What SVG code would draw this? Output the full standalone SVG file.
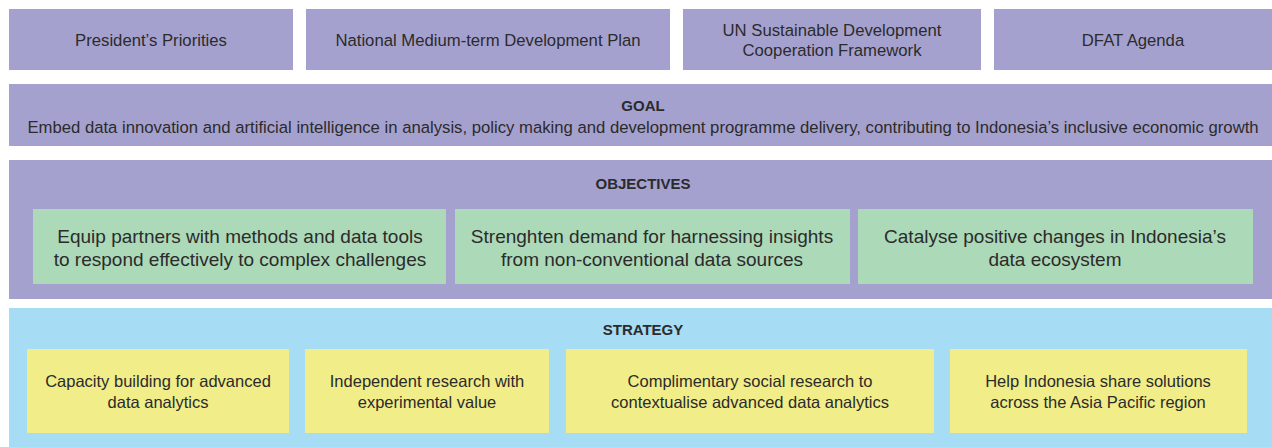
<svg xmlns="http://www.w3.org/2000/svg" width="1272" height="447" viewBox="0 0 1272 447">
<style>
.p{fill:#a5a1cf}
.g{fill:#acd9b8}
.b{fill:#a6dcf4}
.y{fill:#f1ed88}
text{font-family:"Liberation Sans",Arial,sans-serif;fill:#2b2b2b;text-anchor:middle}
.t{font-size:16.7px}
.h{font-size:15px;font-weight:bold}
.o{font-size:19px}
.s{font-size:16.5px}
</style>
<rect width="1272" height="447" fill="#ffffff"/>
<g id="presidents-priorities"><rect class="p" x="9" y="9" width="284" height="61"/><text class="t" x="151" y="46">President’s Priorities</text></g>
<g id="national-plan"><rect class="p" x="306" y="9" width="364" height="61"/><text class="t" x="488" y="46">National Medium-term Development Plan</text></g>
<g id="un-framework"><rect class="p" x="683" y="9" width="298" height="61"/><text class="t" x="832" y="36">UN Sustainable Development</text><text class="t" x="832" y="56">Cooperation Framework</text></g>
<g id="dfat-agenda"><rect class="p" x="994" y="9" width="278" height="61"/><text class="t" x="1133" y="46">DFAT Agenda</text></g>
<g id="goal"><rect class="p" x="9" y="84" width="1263" height="62"/><text class="h" x="643" y="111">GOAL</text><text class="t" x="643" y="133">Embed data innovation and artificial intelligence in analysis, policy making and development programme delivery, contributing to Indonesia’s inclusive economic growth</text></g>
<g id="objectives"><rect class="p" x="9" y="160" width="1263" height="139"/><text class="h" x="643" y="189">OBJECTIVES</text>
<g id="objective-1"><rect class="g" x="33" y="209" width="413" height="75"/><text class="o" x="240" y="243">Equip partners with methods and data tools</text><text class="o" x="240" y="266">to respond effectively to complex challenges</text></g>
<g id="objective-2"><rect class="g" x="455" y="209" width="395" height="75"/><text class="o" x="652" y="243">Strenghten demand for harnessing insights</text><text class="o" x="652" y="266">from non-conventional data sources</text></g>
<g id="objective-3"><rect class="g" x="858" y="209" width="395" height="75"/><text class="o" x="1055" y="243">Catalyse positive changes in Indonesia’s</text><text class="o" x="1055" y="266">data ecosystem</text></g>
</g>
<g id="strategy"><rect class="b" x="9" y="308" width="1263" height="139"/><text class="h" x="643" y="335">STRATEGY</text>
<g id="strategy-1"><rect class="y" x="27" y="349" width="262" height="84"/><text class="s" x="158" y="387">Capacity building for advanced</text><text class="s" x="158" y="408">data analytics</text></g>
<g id="strategy-2"><rect class="y" x="305" y="349" width="244" height="84"/><text class="s" x="427" y="387">Independent research with</text><text class="s" x="427" y="408">experimental value</text></g>
<g id="strategy-3"><rect class="y" x="566" y="349" width="368" height="84"/><text class="s" x="750" y="387">Complimentary social research to</text><text class="s" x="750" y="408">contextualise advanced data analytics</text></g>
<g id="strategy-4"><rect class="y" x="950" y="349" width="297" height="84"/><text class="s" x="1098" y="387">Help Indonesia share solutions</text><text class="s" x="1098" y="408">across the Asia Pacific region</text></g>
</g>
<g id="connectors"/>
</svg>
